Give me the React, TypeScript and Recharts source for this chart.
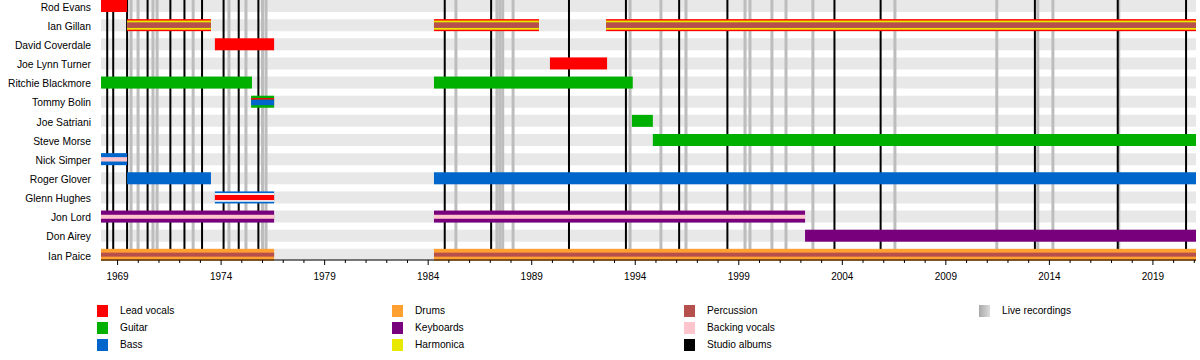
import React from 'react';
import { BarChart, Bar, XAxis, YAxis, ReferenceLine } from 'recharts';

const START = 1968.2;
const END = 2021.08;

const members = [
  'Rod Evans',
  'Ian Gillan',
  'David Coverdale',
  'Joe Lynn Turner',
  'Ritchie Blackmore',
  'Tommy Bolin',
  'Joe Satriani',
  'Steve Morse',
  'Nick Simper',
  'Roger Glover',
  'Glenn Hughes',
  'Jon Lord',
  'Don Airey',
  'Ian Paice',
];

type Span = [number, number] | null;

const firstStint: Span[] = [
  [START, 1969.46],
  [1969.46, 1973.51],
  [1973.7, 1976.56],
  [1989.88, 1992.64],
  [START, 1975.49],
  [1975.45, 1976.56],
  [1993.84, 1994.85],
  [1994.85, END],
  [START, 1969.46],
  [1969.46, 1973.51],
  [1973.7, 1976.56],
  [START, 1976.56],
  [2002.2, END],
  [START, 1976.56],
];

const secondStint: Span[] = [
  null,
  [1984.28, 1989.35],
  null,
  null,
  [1984.28, 1993.88],
  null,
  null,
  null,
  null,
  [1984.28, END],
  null,
  [1984.28, 2002.2],
  null,
  [1984.28, END],
];

const thirdStint: Span[] = [
  null,
  [1992.59, END],
  null,
  null,
  null,
  null,
  null,
  null,
  null,
  null,
  null,
  null,
  null,
  null,
];

const memberRoles = [
  ['lead vocals'],
  ['lead vocals', 'harmonica', 'percussion'],
  ['lead vocals'],
  ['lead vocals'],
  ['guitar'],
  ['guitar', 'lead vocals', 'bass'],
  ['guitar'],
  ['guitar'],
  ['bass', 'backing vocals'],
  ['bass'],
  ['bass', 'lead vocals'],
  ['keyboards', 'backing vocals'],
  ['keyboards'],
  ['drums', 'percussion'],
];

const studioAlbums = [
  1968.5, 1968.79, 1969.46, 1970.45, 1971.55, 1972.23, 1973.08, 1974.12, 1974.85, 1975.8,
  1984.8, 1987.04, 1990.8, 1993.55, 1996.12, 1998.45, 2003.62, 2005.85, 2013.3, 2017.3, 2020.6,
];

const liveRecordings = [
  1969.65, 1969.99, 1970.71, 1970.91, 1972.65, 1974.38, 1975.2, 1976.0, 1976.17,
  1985.34, 1987.32, 1987.46, 1987.6, 1988.1, 1993.75, 1995.24, 1996.45, 1999.3, 1999.54,
  2000.6, 2001.28, 2002.58, 2006.54, 2011.46, 2013.44, 2014.17, 2017.35,
];

const yearTicks = Array.from({ length: 53 }, (_, i) => 1969 + i);

const legendColumns = [
  ['Lead vocals', 'Guitar', 'Bass'],
  ['Drums', 'Keyboards', 'Harmonica'],
  ['Percussion', 'Backing vocals', 'Studio albums'],
  ['Live recordings'],
];

const ROLE_COLORS: Record<string, string> = {
  'lead vocals': '#ff0000',
  guitar: '#00b000',
  bass: '#0066cc',
  drums: '#ffa030',
  keyboards: '#78007c',
  harmonica: '#e8e800',
  percussion: '#b5504c',
  'backing vocals': '#ffc4cc',
  'studio albums': '#000000',
  gap: '#ffffff',
};

// stripe layout inside a 12px bar: [role, top, bottom]
const STRIPES: Record<string, [string, number, number][]> = {
  'lead vocals|harmonica|percussion': [
    ['lead vocals', 0, 12],
    ['harmonica', 1.4, 10.6],
    ['percussion', 3.2, 8.8],
  ],
  'guitar|lead vocals|bass': [
    ['guitar', 0, 12],
    ['lead vocals', 2.4, 4],
    ['bass', 4, 9.5],
  ],
  'bass|backing vocals': [
    ['bass', 0, 12],
    ['backing vocals', 4, 8.4],
  ],
  'bass|lead vocals': [
    ['bass', 0, 12],
    ['gap', 1.7, 10.3],
    ['lead vocals', 3.5, 8.7],
  ],
  'keyboards|backing vocals': [
    ['keyboards', 0, 12],
    ['backing vocals', 4.2, 8.2],
  ],
  'drums|percussion': [
    ['drums', 0, 12],
    ['percussion', 3.8, 7.8],
  ],
};

const FONT = '"Liberation Sans", Arial, sans-serif';

const rows = members.map((name, i) => ({
  name,
  bg: [START, END],
  s1: firstStint[i],
  s2: secondStint[i],
  s3: thirdStint[i],
  roles: memberRoles[i],
}));

const StintShape = (props: any) => {
  const { x, y, width, height, payload, value } = props;
  if (!value || !width || width <= 0) return <g />;
  const key = payload.roles.join('|');
  const layers = STRIPES[key] ?? [[payload.roles[0], 0, 12]];
  const k = height / 12;
  return (
    <g>
      {layers.map(([role, t, b], i) => (
        <rect key={i} x={x} y={y + t * k} width={width} height={(b - t) * k} fill={ROLE_COLORS[role]} />
      ))}
    </g>
  );
};

const YearTick = (props: any) => {
  const { x, y, payload } = props;
  const major = (payload.value - 1969) % 5 === 0;
  return (
    <g>
      <line x1={x} x2={x} y1={y} y2={y + (major ? 5 : 3)} stroke="#000" strokeWidth={1} />
      {major && (
        <text x={x} y={y + 20} textAnchor="middle" fontSize={10} fontFamily={FONT} fill="#000">
          {payload.value}
        </text>
      )}
    </g>
  );
};

const NameTick = (props: any) => {
  const { x, y, payload } = props;
  return (
    <text x={x} y={y} dy="0.5em" textAnchor="end" fontSize={10.3} fontFamily={FONT} fill="#000">
      {payload.value}
    </text>
  );
};

const Swatch = ({ label }: { label: string }) => {
  if (label === 'Live recordings') {
    return <div style={{ width: 11, height: 12, background: 'linear-gradient(to right, #a8a8a8, #dcdcdc)' }} />;
  }
  return <div style={{ width: 11, height: 12, background: ROLE_COLORS[label.toLowerCase()] }} />;
};

const LEGEND_X = [97, 392, 684, 979];
const LEGEND_Y = [305, 322, 339];

export default function App() {
  return (
    <div style={{ position: 'absolute', left: 0, top: 0, width: 1200, height: 360, background: '#fff', overflow: 'hidden' }}>
      <div style={{ position: 'absolute', left: 0, top: -4 }}>
        <BarChart
          width={1200}
          height={294}
          data={rows}
          layout="vertical"
          margin={{ top: 0, right: 4, bottom: 0, left: 0 }}
          barSize={12}
          barGap={-12}
          barCategoryGap={0}
        >
          <XAxis
            type="number"
            domain={[START, END]}
            ticks={yearTicks}
            interval={0}
            allowDataOverflow
            tick={<YearTick />}
            tickLine={false}
            tickSize={0}
            tickMargin={0}
            height={30}
            axisLine={{ stroke: '#000' }}
          />
          <YAxis
            type="category"
            dataKey="name"
            width={101}
            axisLine={false}
            tickLine={false}
            tickSize={0}
            tickMargin={10}
            interval={0}
            padding={{ top: 0, bottom: -4 }}
            tick={<NameTick />}
          />
          <Bar dataKey="bg" fill="#e8e8e8" isAnimationActive={false} zIndex={100} />
          {liveRecordings.map((yr) => (
            <ReferenceLine key={`l${yr}`} x={yr} stroke="#bdbdbd" strokeWidth={3} zIndex={150} />
          ))}
          {studioAlbums.map((yr) => (
            <ReferenceLine key={`s${yr}`} x={yr} stroke="#000" strokeWidth={2} zIndex={160} />
          ))}
          <Bar dataKey="s1" shape={<StintShape />} isAnimationActive={false} zIndex={300} />
          <Bar dataKey="s2" shape={<StintShape />} isAnimationActive={false} zIndex={300} />
          <Bar dataKey="s3" shape={<StintShape />} isAnimationActive={false} zIndex={300} />
        </BarChart>
      </div>
      {legendColumns.map((col, ci) =>
        col.map((label, ri) => (
          <div
            key={label}
            style={{
              position: 'absolute',
              left: LEGEND_X[ci],
              top: LEGEND_Y[ri],
              display: 'flex',
              alignItems: 'center',
              fontFamily: FONT,
              fontSize: 10.2,
              color: '#000',
            }}
          >
            <Swatch label={label} />
            <span style={{ marginLeft: 12, lineHeight: '12px' }}>{label}</span>
          </div>
        ))
      )}
    </div>
  );
}
